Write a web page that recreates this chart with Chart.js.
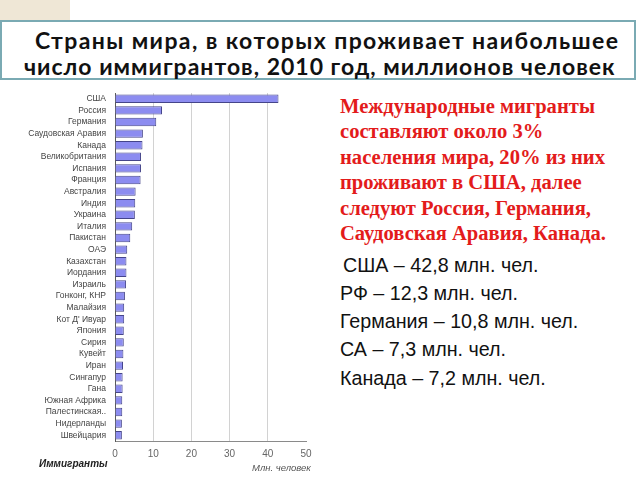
<!DOCTYPE html>
<html>
<head>
<meta charset="utf-8">
<script src="https://cdn.jsdelivr.net/npm/chart.js@4/dist/chart.umd.min.js"></script>
<style>
  html, body { margin: 0; padding: 0; background: #ffffff; }
  body { width: 640px; height: 480px; position: relative; overflow: hidden; }
  #corner { position: absolute; left: 0; top: 0; width: 70px; height: 22px; background: #efe7d6; }
  #titlebox { position: absolute; left: 0; top: 20px; width: 632px; height: 56px; border: 2px solid #7aaab3; background: #fff; }
  .title { position: absolute; font-family: Lato, "Open Sans", sans-serif; font-weight: 700; font-size: 23px; color: #111; white-space: nowrap; line-height: 26px; }
  #t1 { left: 35px; top: 27px; letter-spacing: 1.4px; }
  #t2 { left: 24px; top: 53px; letter-spacing: 1.0px; }
  #chartwrap { position: absolute; left: 0; top: 85px; width: 330px; height: 385px; }
  #red { position: absolute; left: 340px; top: 94px; width: 298px; font-family: "Liberation Serif", "Times New Roman", serif; font-weight: 700; font-size: 20.6px; line-height: 25.4px; color: #e31b1b; }
  .facts { position: absolute; left: 340px; font-family: "Liberation Sans", Arial, sans-serif; font-size: 19.7px; color: #111; white-space: nowrap; line-height: 20px; }
  #imm { position: absolute; left: 39px; top: 458px; font-family: "Liberation Sans", Arial, sans-serif; font-size: 10px; font-weight: 700; font-style: italic; color: #222; }
  #unit { position: absolute; left: 252px; top: 462px; font-family: "Liberation Sans", Arial, sans-serif; font-size: 9.5px; font-style: italic; color: #555; }
</style>
</head>
<body>
<div id="corner"></div>
<div id="titlebox"></div>
<div class="title" id="t1">Страны мира, в которых проживает наибольшее</div>
<div class="title" id="t2">число иммигрантов, 2010 год, миллионов человек</div>
<div id="chartwrap"><canvas id="c" width="330" height="385"></canvas></div>
<div id="imm">Иммигранты</div>
<div id="unit">Млн. человек</div>
<div id="red">Международные мигранты составляют около 3% населения мира, 20% из них проживают в США, далее следуют Россия, Германия, Саудовская Аравия, Канада.</div>
<div class="facts" style="top:255px;left:343px">США – 42,8 млн. чел.</div>
<div class="facts" style="top:283px">РФ – 12,3 млн. чел.</div>
<div class="facts" style="top:311px">Германия – 10,8 млн. чел.</div>
<div class="facts" style="top:339px">СА – 7,3 млн. чел.</div>
<div class="facts" style="top:368px">Канада – 7,2 млн. чел.</div>
<script>
const countries = ["США","Россия","Германия","Саудовская Аравия","Канада","Великобритания","Испания","Франция","Австралия","Индия","Украина","Италия","Пакистан","ОАЭ","Казахстан","Иордания","Израиль","Гонконг, КНР","Малайзия","Кот Д' Ивуар","Япония","Сирия","Кувейт","Иран","Сингапур","Гана","Южная Африка","Палестинская..","Нидерланды","Швейцария"];
const immigrants = [42.8,12.3,10.8,7.3,7.2,6.8,6.8,6.7,5.4,5.3,5.2,4.5,4.0,3.2,3.0,3.0,2.9,2.6,2.4,2.4,2.3,2.3,2.2,2.1,2.0,2.0,1.9,1.9,1.8,1.8];
const xTicks = [0,10,20,30,40,50];

new Chart(document.getElementById('c'), {
  type: 'bar',
  data: {
    labels: countries,
    datasets: [{
      data: immigrants,
      backgroundColor: '#8c8cf0',
      borderColor: '#45458a',
      borderWidth: 1,
      categoryPercentage: 1,
      barPercentage: 0.72
    }]
  },
  options: {
    indexAxis: 'y',
    responsive: false,
    animation: false,
    events: [],
    layout: { padding: { top: 8, right: 24, left: 0, bottom: 0 } },
    plugins: { legend: { display: false }, tooltip: { enabled: false } },
    scales: {
      x: {
        min: xTicks[0], max: xTicks[xTicks.length - 1],
        afterBuildTicks: (s) => { s.ticks = xTicks.map(v => ({ value: v })); },
        afterFit: (s) => { s.height = 29; s.paddingLeft = 0; s.paddingRight = 0; },
        grid: { color: (ctx) => (ctx.tick && ctx.tick.value === 50) ? 'rgba(0,0,0,0)' : '#d2d2d2', drawTicks: false },
        border: { display: true, color: '#8a8a8a', width: 1 },
        ticks: { padding: 7, color: '#666', font: { family: 'Liberation Sans, Arial, sans-serif', size: 10 } }
      },
      y: {
        afterFit: (s) => { s.width = 115; s.paddingTop = 0; s.paddingBottom = 0; },
        grid: { display: false, drawTicks: false },
        border: { display: true, color: '#5a5a5a', width: 1 },
        ticks: { padding: 9, color: '#444', autoSkip: false, font: { family: 'Liberation Sans, Arial, sans-serif', size: 8.5 } }
      }
    }
  }
});
</script>
</body>
</html>
